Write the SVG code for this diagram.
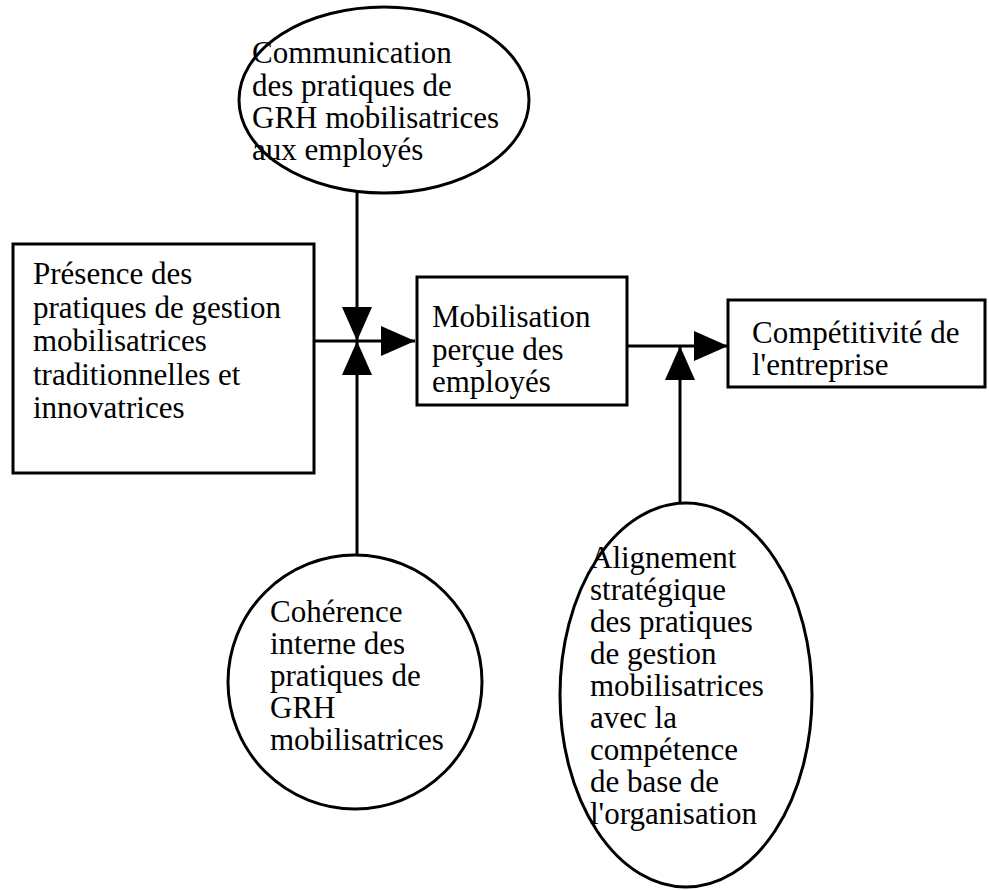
<svg xmlns="http://www.w3.org/2000/svg" width="989" height="890" viewBox="0 0 989 890">
  <style>
    .shape { fill: #ffffff; stroke: #000000; stroke-width: 3; }
    .conn { stroke: #000000; stroke-width: 3; fill: none; }
    .lbl { font-family: "Liberation Serif", "Times New Roman", serif; font-size: 31px; fill: #000000; }
  </style>
  <defs>
    <marker id="arrow" markerUnits="userSpaceOnUse" markerWidth="34" markerHeight="30" viewBox="0 0 34 30" refX="34" refY="15" orient="auto">
      <path d="M0,0 L34,15 L0,30 Z" fill="#000000"/>
    </marker>
  </defs>
  <rect width="989" height="890" fill="#ffffff"/>

  <g id="connectors">
    <line class="conn" x1="357" y1="192" x2="357" y2="341" marker-end="url(#arrow)"/>
    <line class="conn" x1="357" y1="555" x2="357" y2="341" marker-end="url(#arrow)"/>
    <line class="conn" x1="314" y1="341" x2="415" y2="341" marker-end="url(#arrow)"/>
    <line class="conn" x1="627" y1="346" x2="728" y2="346" marker-end="url(#arrow)"/>
    <line class="conn" x1="680" y1="503" x2="680" y2="346" marker-end="url(#arrow)"/>
  </g>

  <g id="communication">
    <ellipse class="shape" cx="384" cy="100" rx="145" ry="93"/>
    <text class="lbl" x="252" y="63">Communication</text>
    <text class="lbl" x="252" y="96">des pratiques de</text>
    <text class="lbl" x="252" y="128">GRH mobilisatrices</text>
    <text class="lbl" x="252" y="160">aux employés</text>
  </g>

  <g id="presence">
    <rect class="shape" x="13" y="244" width="301" height="229"/>
    <text class="lbl" x="33" y="284">Présence des</text>
    <text class="lbl" x="33" y="318">pratiques de gestion</text>
    <text class="lbl" x="33" y="351">mobilisatrices</text>
    <text class="lbl" x="33" y="385">traditionnelles et</text>
    <text class="lbl" x="33" y="418">innovatrices</text>
  </g>

  <g id="mobilisation">
    <rect class="shape" x="417" y="277" width="210" height="128"/>
    <text class="lbl" x="432" y="327">Mobilisation</text>
    <text class="lbl" x="432" y="360">perçue des</text>
    <text class="lbl" x="432" y="392">employés</text>
  </g>

  <g id="competitivite">
    <rect class="shape" x="728" y="300" width="257" height="87"/>
    <text class="lbl" x="752" y="343">Compétitivité de</text>
    <text class="lbl" x="752" y="375">l'entreprise</text>
  </g>

  <g id="coherence">
    <circle class="shape" cx="355" cy="682" r="127"/>
    <text class="lbl" x="270" y="622">Cohérence</text>
    <text class="lbl" x="270" y="654">interne des</text>
    <text class="lbl" x="270" y="686">pratiques de</text>
    <text class="lbl" x="270" y="718">GRH</text>
    <text class="lbl" x="270" y="750">mobilisatrices</text>
  </g>

  <g id="alignement">
    <ellipse class="shape" cx="686" cy="695" rx="126" ry="192"/>
    <text class="lbl" x="590" y="568">Alignement</text>
    <text class="lbl" x="590" y="600">stratégique</text>
    <text class="lbl" x="590" y="632">des pratiques</text>
    <text class="lbl" x="590" y="664">de gestion</text>
    <text class="lbl" x="590" y="696">mobilisatrices</text>
    <text class="lbl" x="590" y="728">avec la</text>
    <text class="lbl" x="590" y="760">compétence</text>
    <text class="lbl" x="590" y="792">de base de</text>
    <text class="lbl" x="590" y="824">l'organisation</text>
  </g>
</svg>
